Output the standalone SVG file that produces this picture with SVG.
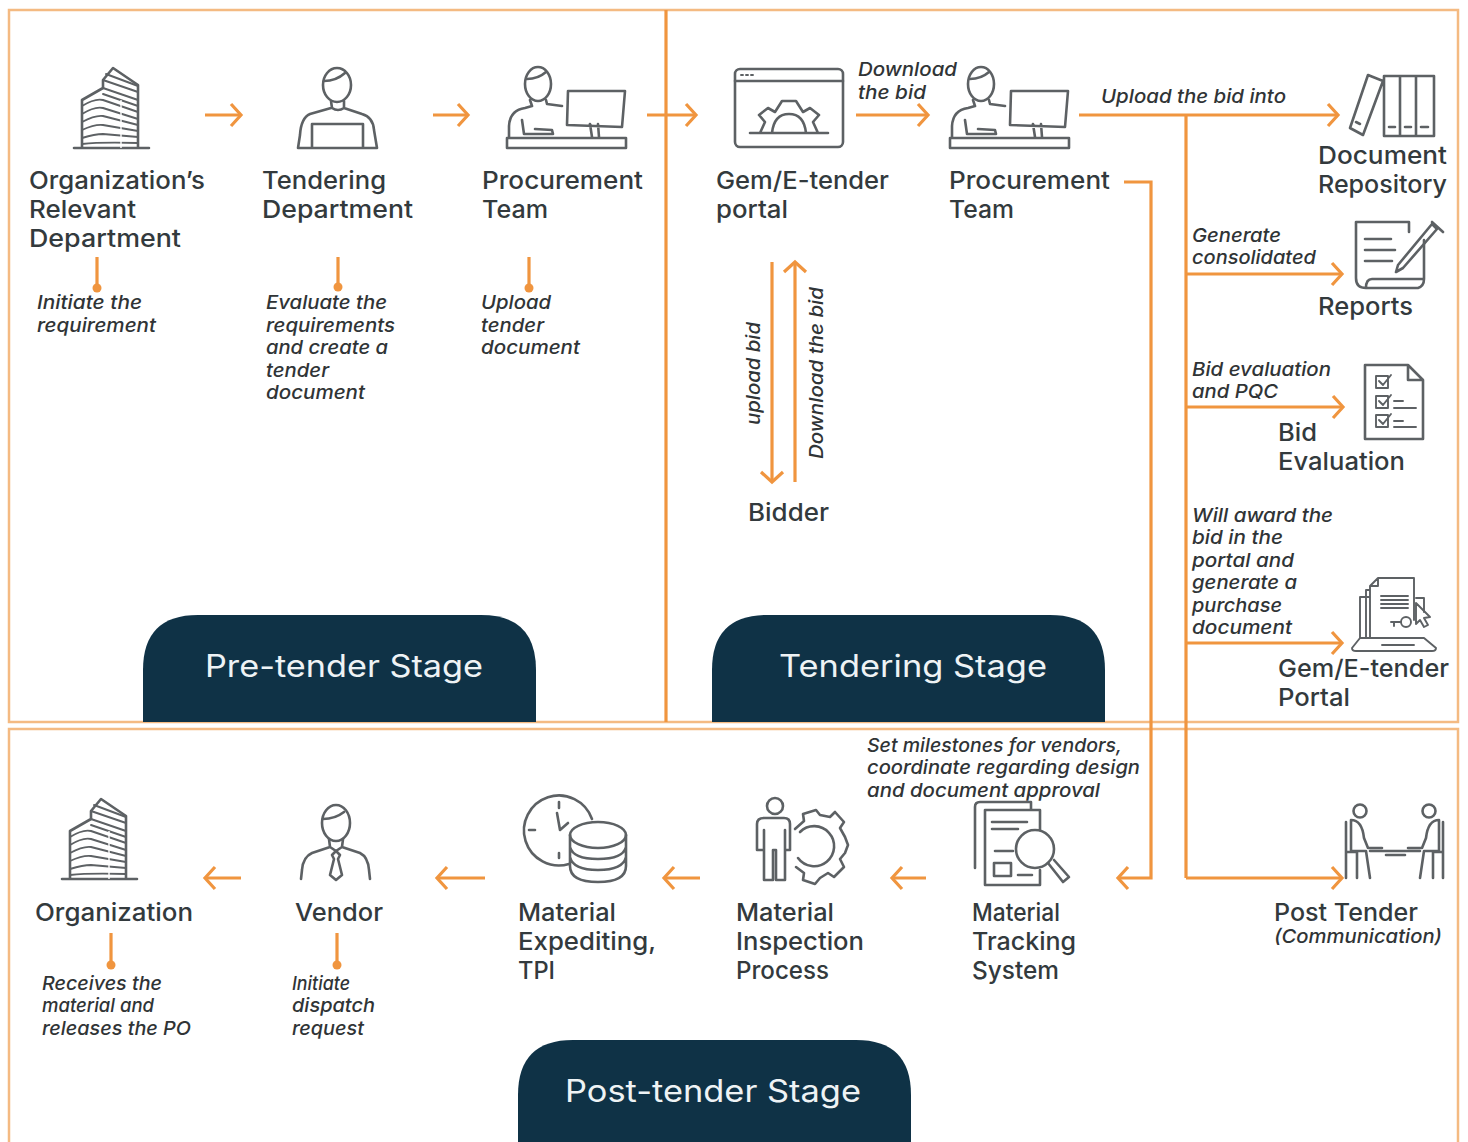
<svg xmlns="http://www.w3.org/2000/svg" xmlns:xlink="http://www.w3.org/1999/xlink" width="1468" height="1142" viewBox="0 0 1468 1142">
<style>
text{font-family:"Inter","Noto Sans","Liberation Sans",sans-serif;fill:#333a3d}
.m{font-size:24.5px;font-weight:500}
.i{font-size:19px;font-style:italic;font-weight:500;fill:#303436}
.p{font-size:30.5px;fill:#eef3f5}
.f{fill:none;stroke:#f4ba82;stroke-width:2.5}
.c{fill:none;stroke:#f0953f;stroke-width:3.2}
.d{fill:#f0953f}
.k{fill:none;stroke:#5d6164;stroke-width:2.6;stroke-linejoin:round;stroke-linecap:round}
.t{fill:none;stroke:#5d6164;stroke-width:1.9;stroke-linecap:round;stroke-linejoin:round}
.s{fill:#0f3246}
</style>
<defs>
<marker id="a" markerUnits="userSpaceOnUse" markerWidth="16" markerHeight="28" refX="13" refY="14" orient="auto"><path d="M3 3L13 14L3 25" fill="none" stroke="#f0953f" stroke-width="3.2"/></marker>
<g id="bld">
<path class="k" d="M74 148H149M82 148V100L103 88V80L113 68L138 85V148"/>
<path class="t" d="M103 80L138 92M106 74L138 86M103 88L138 100M103 94L138 106M82 106Q95 98 103 100L138 112M82 114Q95 106 103 108L138 119M82 122Q95 115 103 116L138 125M82 130Q95 124 103 125L138 131M82 138Q95 134 103 134L138 137M82 144Q100 142 138 143"/>
<path d="M121 100V148" stroke="#fff" stroke-width="1.4"/>
</g>
<g id="desk">
<ellipse class="k" cx="538" cy="84" rx="13" ry="17"/>
<path class="k" d="M527 79Q538 79 546 72M530 100L532 106L525 108Q510 110 509 126V137M546 100L547 104L562 106M522 120L524 134H553L552 130L535 129M507 138H626V148H507ZM568 91H625L622 127L567 125ZM590 124L592 137M598 124L599 137"/>
</g>
</defs>
<rect width="1468" height="1142" fill="#fff"/>
<g id="frames">
<rect class="f" x="9" y="10" width="1449" height="712"/>
<path class="f" d="M9 1142V729H1458V1142"/>
</g>
<g id="connectors">
<path class="c" d="M666 10V722"/>
<path class="c" marker-end="url(#a)" d="M205 115H241"/>
<path class="c" marker-end="url(#a)" d="M433 115H468"/>
<path class="c" marker-end="url(#a)" d="M647 115H696"/>
<path class="c" marker-end="url(#a)" d="M856 115H928"/>
<path class="c" marker-end="url(#a)" d="M1079 115H1338"/>
<path class="c" d="M1186 115V878"/>
<path class="c" marker-end="url(#a)" d="M1186 274H1342"/>
<path class="c" marker-end="url(#a)" d="M1186 407H1343"/>
<path class="c" marker-end="url(#a)" d="M1186 643H1342"/>
<path class="c" marker-end="url(#a)" d="M1186 878H1342"/>
<path class="c" marker-end="url(#a)" d="M1124 182H1151V878H1118"/>
<path class="c" marker-end="url(#a)" d="M926 878H892"/>
<path class="c" marker-end="url(#a)" d="M700 878H664"/>
<path class="c" marker-end="url(#a)" d="M485 878H437"/>
<path class="c" marker-end="url(#a)" d="M241 878H205"/>
<path class="c" marker-end="url(#a)" d="M772 262V482"/>
<path class="c" marker-end="url(#a)" d="M795 482V262"/>
<path class="c" d="M97 257V288M338 257V287M529 257V288M111 933V965M337 933V965"/>
<circle class="d" cx="97" cy="288" r="4.5"/><circle class="d" cx="338" cy="287" r="4.5"/><circle class="d" cx="529" cy="288" r="4.5"/><circle class="d" cx="111" cy="965" r="4.5"/><circle class="d" cx="337" cy="965" r="4.5"/>
</g>
<g id="stage-pre"><path class="s" d="M143 722V670Q143 615 198 615H481Q536 615 536 670V722Z"/><text class="p" x="205" y="677" textLength="278" lengthAdjust="spacingAndGlyphs">Pre-tender Stage</text></g>
<g id="stage-tender"><path class="s" d="M712 722V670Q712 615 767 615H1050Q1105 615 1105 670V722Z"/><text class="p" x="779" y="677" textLength="268" lengthAdjust="spacingAndGlyphs">Tendering Stage</text></g>
<g id="stage-post"><path class="s" d="M518 1142V1095Q518 1040 573 1040H856Q911 1040 911 1095V1142Z"/><text class="p" x="565" y="1102" textLength="296" lengthAdjust="spacingAndGlyphs">Post-tender Stage</text></g>

<g id="org-dept"><use href="#bld"/>
<text class="m" x="29" y="189" textLength="176" lengthAdjust="spacingAndGlyphs">Organization’s</text><text class="m" x="29" y="218" textLength="107" lengthAdjust="spacingAndGlyphs">Relevant</text><text class="m" x="29" y="247" textLength="152" lengthAdjust="spacingAndGlyphs">Department</text>
<text class="i" x="37" y="309" textLength="105" lengthAdjust="spacingAndGlyphs">Initiate the</text><text class="i" x="37" y="332" textLength="119" lengthAdjust="spacingAndGlyphs">requirement</text></g>

<g id="tendering-dept">
<ellipse class="k" cx="337" cy="85" rx="14" ry="17"/>
<path class="k" d="M324 81Q336 81 345 73M331 101L332 108Q338 112 344 108L344 101M331 108L310 114Q301 118 300 135L298 148H377L374 130Q373 117 362 114L344 108M312 148V124H363V148"/>
<text class="m" x="262" y="189" textLength="124" lengthAdjust="spacingAndGlyphs">Tendering</text><text class="m" x="262" y="218" textLength="151" lengthAdjust="spacingAndGlyphs">Department</text>
<text class="i" x="266" y="309" textLength="121" lengthAdjust="spacingAndGlyphs">Evaluate the</text><text class="i" x="266" y="332" textLength="129" lengthAdjust="spacingAndGlyphs">requirements</text><text class="i" x="266" y="354" textLength="122" lengthAdjust="spacingAndGlyphs">and create a</text><text class="i" x="266" y="377" textLength="63" lengthAdjust="spacingAndGlyphs">tender</text><text class="i" x="266" y="399" textLength="99" lengthAdjust="spacingAndGlyphs">document</text></g>

<g id="procurement-1"><use href="#desk"/>
<text class="m" x="482" y="189" textLength="161" lengthAdjust="spacingAndGlyphs">Procurement</text><text class="m" x="482" y="218" textLength="66" lengthAdjust="spacingAndGlyphs">Team</text>
<text class="i" x="481" y="309" textLength="70" lengthAdjust="spacingAndGlyphs">Upload</text><text class="i" x="481" y="332" textLength="63" lengthAdjust="spacingAndGlyphs">tender</text><text class="i" x="481" y="354" textLength="99" lengthAdjust="spacingAndGlyphs">document</text></g>

<g id="gem-portal">
<rect class="k" x="735" y="69" width="108" height="78" rx="5"/>
<path class="k" d="M735 81H843M750 133H828M760 133L765 122L759 115L768 108L775 112L782 101H796L803 112L810 108L819 115L813 122L818 133M772 133Q774 114 789 114Q804 114 806 133"/>
<path class="t" d="M741 75H743M746 75H748M751 75H753"/>
<text class="m" x="716" y="189" textLength="173" lengthAdjust="spacingAndGlyphs">Gem/E-tender</text><text class="m" x="716" y="218" textLength="72" lengthAdjust="spacingAndGlyphs">portal</text></g>

<g id="bidder"><text class="m" x="748" y="521" textLength="81" lengthAdjust="spacingAndGlyphs">Bidder</text></g>
<g id="bid-labels">
<text class="i" transform="translate(760 425) rotate(-90)" textLength="103" lengthAdjust="spacingAndGlyphs">upload bid</text>
<text class="i" transform="translate(823 459) rotate(-90)" textLength="172" lengthAdjust="spacingAndGlyphs">Download the bid</text>
<text class="i" x="858" y="76" textLength="99" lengthAdjust="spacingAndGlyphs">Download</text><text class="i" x="858" y="99" textLength="68" lengthAdjust="spacingAndGlyphs">the bid</text>
<text class="i" x="1101" y="103" textLength="185" lengthAdjust="spacingAndGlyphs">Upload the bid into</text>
<text class="i" x="1192" y="242" textLength="89" lengthAdjust="spacingAndGlyphs">Generate</text><text class="i" x="1192" y="264" textLength="124" lengthAdjust="spacingAndGlyphs">consolidated</text>
<text class="i" x="1192" y="376" textLength="139" lengthAdjust="spacingAndGlyphs">Bid evaluation</text><text class="i" x="1192" y="398" textLength="86" lengthAdjust="spacingAndGlyphs">and PQC</text>
<text class="i" x="1192" y="522" textLength="141" lengthAdjust="spacingAndGlyphs">Will award the</text><text class="i" x="1192" y="544" textLength="91" lengthAdjust="spacingAndGlyphs">bid in the</text><text class="i" x="1192" y="567" textLength="102" lengthAdjust="spacingAndGlyphs">portal and</text><text class="i" x="1192" y="589" textLength="105" lengthAdjust="spacingAndGlyphs">generate a</text><text class="i" x="1192" y="612" textLength="90" lengthAdjust="spacingAndGlyphs">purchase</text><text class="i" x="1192" y="634" textLength="100" lengthAdjust="spacingAndGlyphs">document</text>
<text class="i" x="867" y="752" textLength="255" lengthAdjust="spacingAndGlyphs">Set milestones for vendors,</text><text class="i" x="867" y="774" textLength="273" lengthAdjust="spacingAndGlyphs">coordinate regarding design</text><text class="i" x="867" y="797" textLength="233" lengthAdjust="spacingAndGlyphs">and document approval</text>
</g>

<g id="procurement-2"><use href="#desk" transform="translate(443 0)"/>
<text class="m" x="949" y="189" textLength="161" lengthAdjust="spacingAndGlyphs">Procurement</text><text class="m" x="949" y="218" textLength="65" lengthAdjust="spacingAndGlyphs">Team</text></g>

<g id="doc-repo">
<path class="k" d="M1384 76H1400V136H1384ZM1400 76H1416V136H1400ZM1416 76H1434V136H1416ZM1350 128L1368 75L1383 81L1363 135ZM1389 127H1395M1405 127H1411M1421 127H1428M1356 122L1360 124"/>
<text class="m" x="1318" y="164" textLength="129" lengthAdjust="spacingAndGlyphs">Document</text><text class="m" x="1318" y="193" textLength="129" lengthAdjust="spacingAndGlyphs">Repository</text></g>

<g id="reports">
<path class="k" d="M1356 222H1409M1356 222V278Q1356 288 1366 288H1418Q1424 286 1424 279H1372Q1366 279 1366 288M1409 232L1409 222M1424 240V279"/>
<path class="k" d="M1365 239H1391M1365 250H1395M1365 261H1392M1398 265L1396 272L1403 268L1437 229L1432 224ZM1432 222L1443 232"/>
<text class="m" x="1318" y="315" textLength="95" lengthAdjust="spacingAndGlyphs">Reports</text></g>

<g id="bid-eval">
<path class="k" d="M1365 365H1408L1423 380V439H1365ZM1408 365V380H1423"/>
<path class="t" d="M1376 376H1388V388H1376ZM1376 396H1388V408H1376ZM1376 415H1388V427H1376ZM1379 381L1383 385L1391 375M1379 401L1383 405L1391 395M1379 420L1383 424L1391 414M1394 401H1403M1394 408H1416M1394 421H1403M1394 427H1416"/>
<text class="m" x="1278" y="441" textLength="39" lengthAdjust="spacingAndGlyphs">Bid</text><text class="m" x="1278" y="470" textLength="127" lengthAdjust="spacingAndGlyphs">Evaluation</text></g>

<g id="gem-portal-2">
<path class="t" d="M1360 638V597H1370M1416 598H1424V612M1366 638V590H1370M1378 578H1414V620M1378 578L1370 586V638M1370 586H1378V578M1381 596H1408M1381 600H1408M1381 604H1408M1381 608H1408"/>
<path class="t" d="M1416 603L1430 617L1424 618L1428 625L1424 627L1420 620L1416 624Z"/>
<circle class="t" cx="1406" cy="622" r="5"/><path class="t" d="M1401 622H1391M1394 622V626"/>
<path class="t" d="M1360 638H1424L1436 648Q1436 651 1432 651H1356Q1352 651 1352 648ZM1382 645H1414"/>
<text class="m" x="1278" y="677" textLength="171" lengthAdjust="spacingAndGlyphs">Gem/E-tender</text><text class="m" x="1278" y="706" textLength="72" lengthAdjust="spacingAndGlyphs">Portal</text></g>

<g id="post-tender">
<circle class="k" cx="1360" cy="811" r="6.5"/><circle class="k" cx="1429" cy="811" r="6.5"/>
<path class="k" d="M1346 822V878M1351 820Q1362 820 1364 838L1368 848H1382M1351 820V851H1366L1370 878M1357 851V878M1346 852H1356M1439 820Q1428 820 1426 838L1422 848H1408M1439 820V851H1424L1420 878M1433 851V878M1443 822V878M1443 852H1433M1370 851H1420M1386 855H1405"/>
<text class="m" x="1274" y="921" textLength="144" lengthAdjust="spacingAndGlyphs">Post Tender</text>
<text class="i" x="1274" y="943" textLength="168" lengthAdjust="spacingAndGlyphs">(Communication)</text></g>

<g id="tracking">
<path class="k" d="M1031 802H980Q975 802 975 807V868M1031 802V810M985 810H1040V830M985 810V885H1040V870"/>
<path class="k" d="M992 822H1027M992 829H1018M995 851H1013M994 863H1011V876H994ZM1018 875H1032"/>
<circle class="k" cx="1035" cy="849" r="19"/><path class="k" d="M1048 863L1063 882L1069 877L1054 860"/>
<text class="m" x="972" y="921" textLength="88" lengthAdjust="spacingAndGlyphs">Material</text><text class="m" x="972" y="950" textLength="104" lengthAdjust="spacingAndGlyphs">Tracking</text><text class="m" x="972" y="979" textLength="87" lengthAdjust="spacingAndGlyphs">System</text></g>

<g id="inspection">
<circle class="k" cx="775" cy="806" r="8"/>
<path class="k" d="M764 818H784Q790 818 790 824V850M757 850V824Q757 818 764 818M764 830V880H773V850H776V880H785V830M757 850H764M785 850H790"/>
<path class="k" transform="translate(0 7)" d="M795 822L804 814L803 807L816 803L820 808L830 810L835 805L844 815L840 821L845 830L848 838L845 846L840 852L844 860L834 870L828 866L820 871L815 877L803 873L804 866L796 860"/>
<path class="k" d="M800 832A20 20 0 1 1 798 858"/>
<text class="m" x="736" y="921" textLength="98" lengthAdjust="spacingAndGlyphs">Material</text><text class="m" x="736" y="950" textLength="128" lengthAdjust="spacingAndGlyphs">Inspection</text><text class="m" x="736" y="979" textLength="93" lengthAdjust="spacingAndGlyphs">Process</text></g>

<g id="expediting">
<path class="k" d="M592 819A35 35 0 1 0 569 864M559 802V808M559 853V858M529 830H535M557 813L560 830L568 823"/>
<ellipse class="k" cx="598" cy="835" rx="28" ry="13"/>
<path class="k" d="M570 835V866Q570 882 598 882Q626 882 626 866V835M570 847Q573 859 598 859Q623 859 626 847M570 857Q573 870 598 870Q623 870 626 857"/>
<text class="m" x="518" y="921" textLength="98" lengthAdjust="spacingAndGlyphs">Material</text><text class="m" x="518" y="950" textLength="138" lengthAdjust="spacingAndGlyphs">Expediting,</text><text class="m" x="518" y="979" textLength="37" lengthAdjust="spacingAndGlyphs">TPI</text></g>

<g id="vendor">
<ellipse class="k" cx="336" cy="823" rx="14" ry="18"/>
<path class="k" d="M323 819Q335 819 344 812M329 839L330 847L336 851L342 847L343 839M330 847L312 853Q303 857 302 870L301 879M342 847L360 853Q368 857 369 870L370 879M336 851L332 855L334 859L330 875L336 880L342 875L338 859L340 855Z"/>
<text class="m" x="295" y="921" textLength="88" lengthAdjust="spacingAndGlyphs">Vendor</text>
<text class="i" x="292" y="990" textLength="58" lengthAdjust="spacingAndGlyphs">Initiate</text><text class="i" x="292" y="1012" textLength="83" lengthAdjust="spacingAndGlyphs">dispatch</text><text class="i" x="292" y="1035" textLength="72" lengthAdjust="spacingAndGlyphs">request</text></g>

<g id="organization"><use href="#bld" transform="translate(-12 731)"/>
<text class="m" x="35" y="921" textLength="158" lengthAdjust="spacingAndGlyphs">Organization</text>
<text class="i" x="42" y="990" textLength="120" lengthAdjust="spacingAndGlyphs">Receives the</text><text class="i" x="42" y="1012" textLength="112" lengthAdjust="spacingAndGlyphs">material and</text><text class="i" x="42" y="1035" textLength="149" lengthAdjust="spacingAndGlyphs">releases the PO</text></g>
</svg>
